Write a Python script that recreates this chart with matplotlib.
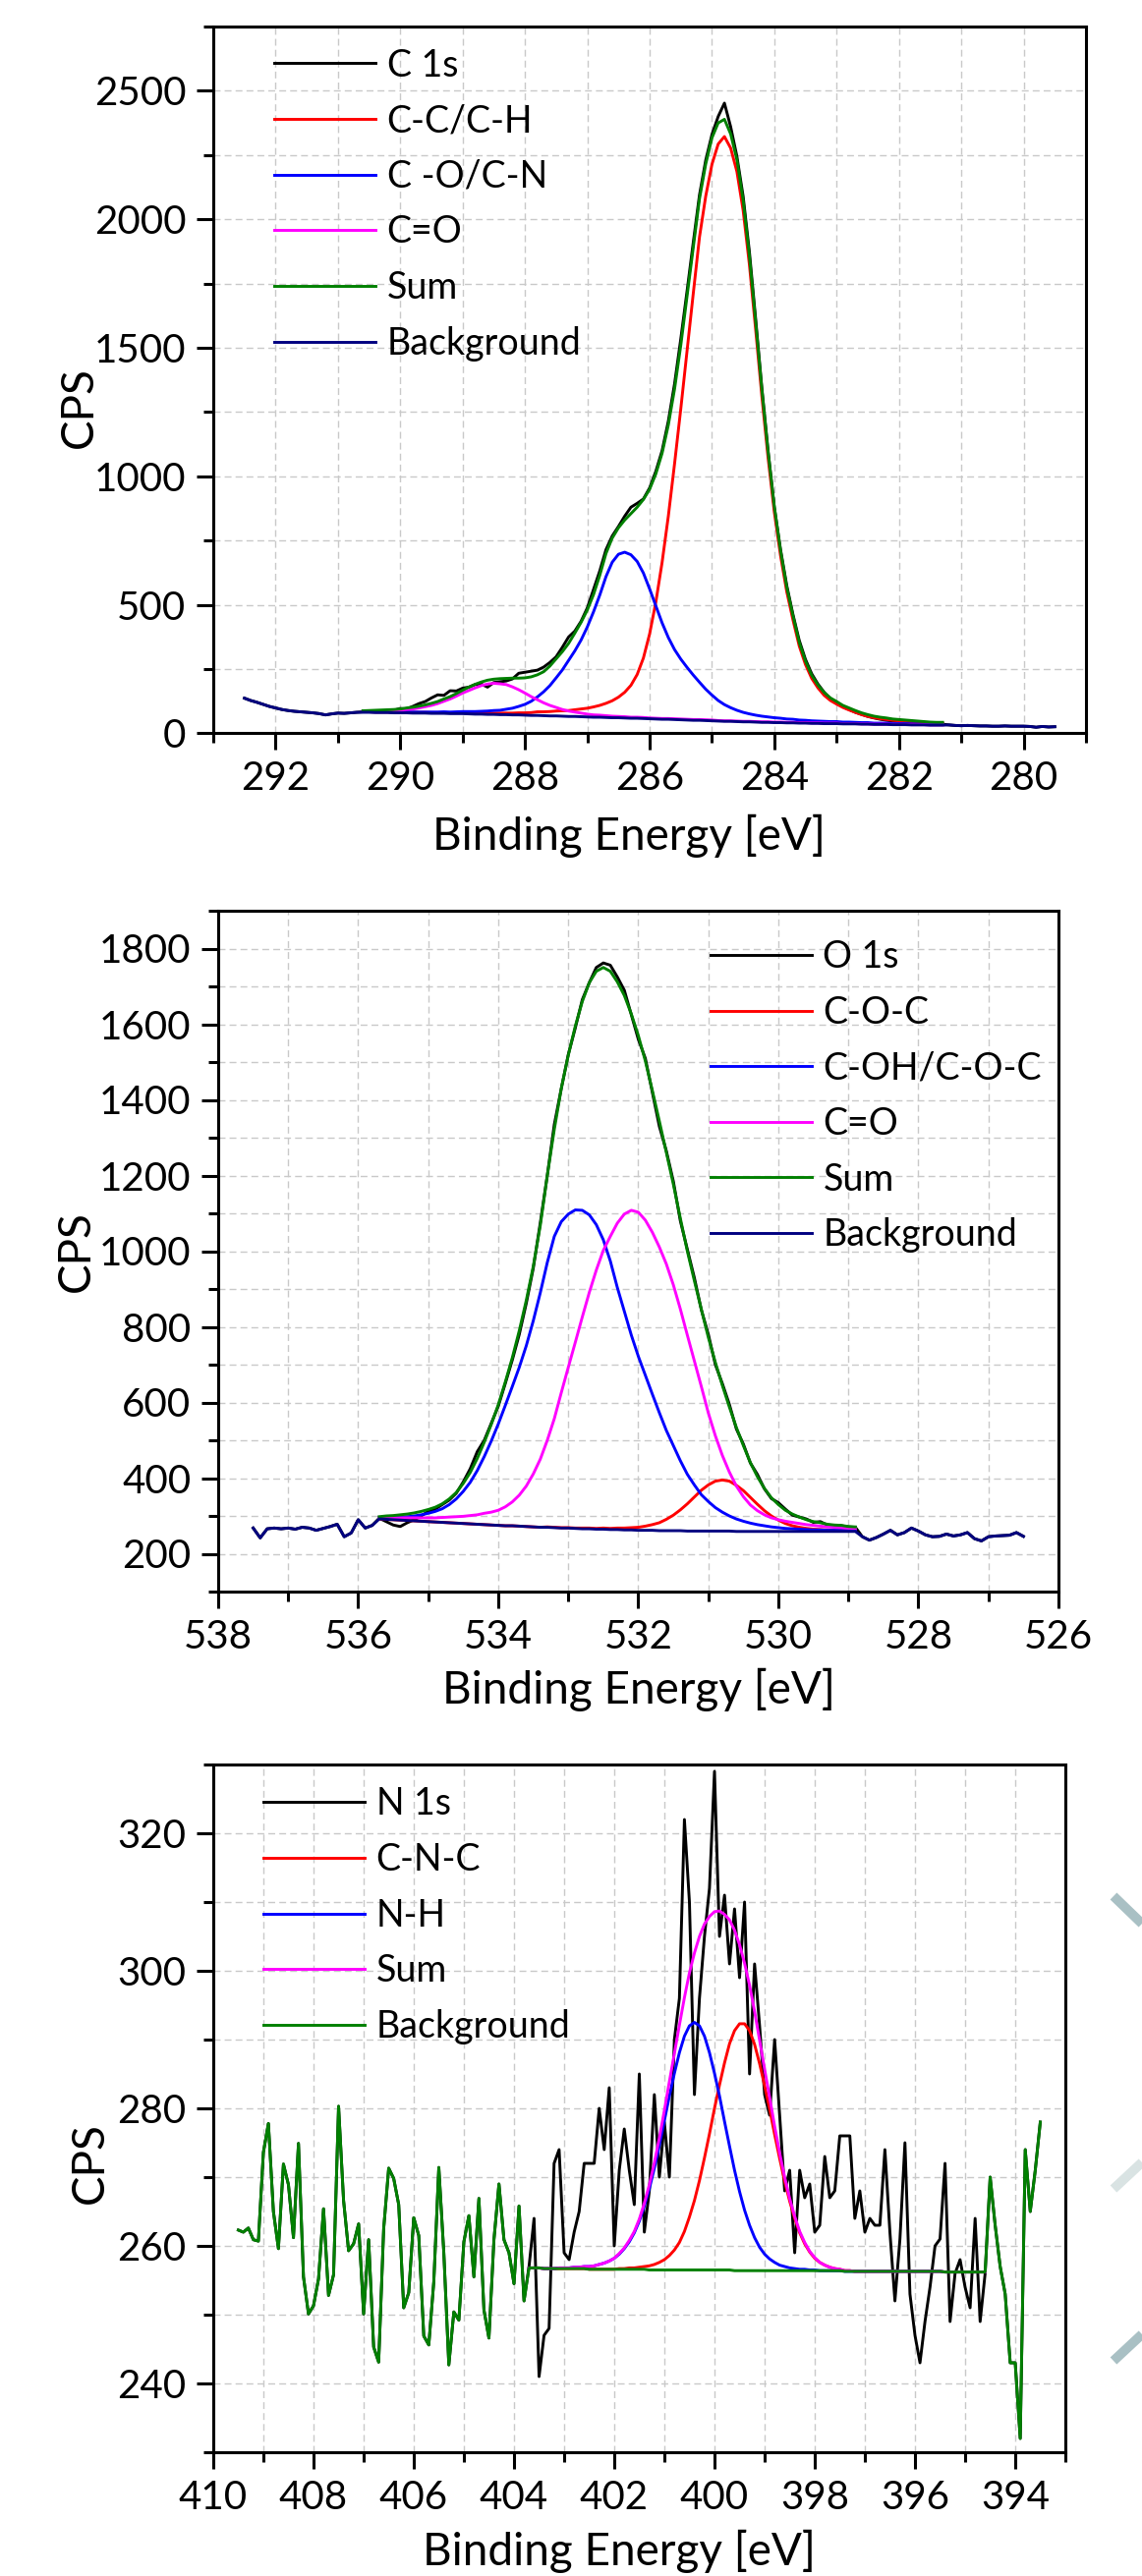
import numpy as np
import matplotlib
matplotlib.use("Agg")
import matplotlib.pyplot as plt
from matplotlib.ticker import MultipleLocator
from matplotlib.lines import Line2D

plt.rcParams['font.family'] = ['Lato', 'DejaVu Sans']

#-------------------------------
# C 1s  (292.5 -> 279.5 eV, 0.1 eV steps, fit region 290.6 -> 281.3)
#-------------------------------
c_energy = np.round(np.arange(292.5, 279.45, -0.1), 1)
c_fit = (19, 113)
c_counts = [
    137, 128, 121, 113, 105, 99, 93, 89, 86, 84,
    82, 80, 77, 72, 76, 79, 78, 80, 82,
    84, 85, 86, 85, 88, 90, 97, 95, 105, 116,
    124, 138, 150, 148, 166, 165, 176, 180, 190, 192,
    180, 198, 201, 204, 212, 234, 238, 242, 246, 258,
    276, 298, 335, 375, 398, 436, 488, 560, 632, 715,
    768, 805, 845, 880, 895, 912, 955, 1020, 1100, 1215,
    1360, 1535, 1720, 1910, 2095, 2230, 2330, 2400, 2452, 2360,
    2245, 2090, 1875, 1615, 1345, 1100, 880, 715, 575, 462,
    362, 288, 232, 192, 160, 134, 119, 104, 93, 82,
    74, 66, 60, 55, 51, 48, 46, 44, 42, 41,
    40, 38, 37, 36,
    33, 31, 30, 31, 30, 29, 29, 28, 28, 29,
    28, 28, 28, 27, 24, 27, 25, 26,
]
c_shirley = [
    82, 82, 81, 81, 81, 80, 80, 80, 79, 79,
    79, 78, 78, 78, 77, 77, 77, 76, 75, 75,
    74, 74, 73, 73, 72, 72, 71, 70, 70, 69,
    68, 68, 67, 66, 66, 65, 64, 63, 63, 62,
    61, 61, 60, 59, 59, 58, 57, 56, 55, 55,
    54, 53, 52, 51, 51, 50, 49, 48, 47, 47,
    46, 45, 45, 44, 43, 43, 42, 42, 41, 41,
    40, 40, 39, 39, 38, 38, 38, 37, 37, 37,
    36, 36, 35, 35, 35, 34, 34, 34, 33, 33,
    33, 32, 32, 32,
]
c_cc = [
    2, 2, 2, 2, 2, 2, 2, 3, 3, 3,
    3, 3, 3, 3, 3, 3, 3, 4, 4, 5,
    5, 5, 6, 6, 7, 8, 9, 11, 14, 15,
    17, 19, 21, 23, 26, 30, 34, 40, 46, 55,
    66, 80, 100, 128, 170, 235, 330, 455, 610, 790,
    995, 1210, 1435, 1660, 1880, 2040, 2165, 2245, 2275, 2230,
    2140, 1990, 1780, 1530, 1270, 1030, 820, 650, 510, 400,
    300, 228, 175, 138, 110, 90, 76, 64, 54, 45,
    37, 30, 26, 22, 19, 17, 15, 13, 12, 10,
    9, 8, 7, 7,
]
c_co = [
    3, 3, 3, 3, 3, 3, 3, 4, 4, 4,
    4, 5, 5, 6, 6, 7, 8, 9, 10, 11,
    13, 15, 17, 21, 26, 33, 42, 55, 72, 93,
    118, 148, 180, 218, 255, 298, 350, 410, 475, 548,
    605, 636, 645, 636, 610, 566, 505, 440, 375, 318,
    272, 236, 205, 176, 148, 122, 100, 80, 65, 53,
    44, 37, 31, 27, 24, 21, 19, 17, 15, 14,
    12, 11, 10, 9, 9, 8, 8, 7, 7, 6,
    6, 6, 5, 5, 5, 4, 4, 4, 4, 4,
    3, 3, 3, 3,
]
c_c_o = [
    4, 4, 5, 6, 7, 8, 10, 13, 16, 20,
    25, 31, 38, 47, 57, 68, 80, 91, 102, 111,
    118, 121, 120, 117, 109, 98, 86, 73, 61, 50,
    41, 33, 26, 21, 17, 14, 11, 9, 8, 7,
    6, 5, 5, 4, 4, 4, 3, 3, 3, 3,
    3, 3, 3, 3, 3, 3, 3, 2, 2, 2,
    2, 2, 2, 2, 2, 2, 2, 2, 2, 2,
    2, 2, 2, 2, 2, 2, 2, 1, 1, 1,
    1, 1, 1, 1, 1, 1, 1, 1, 1, 1,
    1, 1, 1, 1,
]
c_sum = [
    88, 89, 90, 91, 92, 93, 95, 99, 102, 106,
    111, 117, 124, 134, 143, 155, 168, 180, 191, 200,
    207, 211, 213, 214, 215, 215, 216, 220, 228, 240,
    262, 290, 318, 350, 390, 432, 480, 540, 615, 700,
    760, 800, 830, 855, 880, 910, 950, 1010, 1090, 1200,
    1340, 1510, 1700, 1890, 2080, 2215, 2317, 2375, 2389, 2332,
    2232, 2074, 1858, 1603, 1339, 1096, 883, 711, 568, 457,
    354, 281, 226, 188, 159, 138, 124, 109, 99, 89,
    80, 73, 67, 63, 60, 56, 54, 52, 50, 48,
    46, 44, 43, 43,
]

#-------------------------------
# O 1s  (537.5 -> 526.5 eV, fit region 535.7 -> 528.9)
#-------------------------------
o_energy = np.round(np.arange(537.5, 526.45, -0.1), 1)
o_fit = (18, 87)
o_counts = [
    268, 242, 266, 268, 266, 268, 265, 270, 268, 262,
    267, 272, 278, 245, 255, 290, 268, 275,
    294, 285, 276, 272, 282, 290, 300, 312, 318, 330,
    342, 360, 390, 425, 470, 500, 545, 590, 650, 712,
    780, 862, 955, 1075, 1200, 1335, 1430, 1520, 1590, 1665,
    1710, 1750, 1762, 1756, 1725, 1690, 1625, 1560, 1510, 1420,
    1330, 1265, 1185, 1080, 1005, 930, 845, 780, 700, 650,
    595, 530, 490, 440, 410, 372, 346, 335, 318, 302,
    297, 292, 283, 285, 276, 275, 274, 271, 270,
    245, 236, 243, 252, 262, 250, 256, 268, 260, 250,
    245, 246, 252, 247, 250, 256, 240, 234, 245, 247,
    248, 249, 256, 246,
]
o_shirley = [
    292, 291, 290, 289, 288, 287, 286, 285, 284, 283,
    282, 281, 280, 279, 278, 277, 276, 275, 274, 274,
    273, 272, 271, 270, 270, 269, 268, 268, 267, 266,
    266, 265, 265, 264, 264, 263, 263, 262, 262, 262,
    261, 261, 261, 261, 260, 260, 260, 260, 260, 260,
    260, 259, 259, 259, 259, 259, 259, 259, 259, 259,
    259, 259, 259, 259, 259, 259, 259, 259, 259,
]
o_coc = [
    0, 0, 0, 0, 0, 0, 0, 0, 0, 0,
    0, 0, 0, 0, 0, 0, 0, 0, 0, 0,
    0, 0, 0, 0, 1, 1, 1, 1, 1, 2,
    2, 2, 3, 3, 4, 5, 6, 8, 11, 15,
    21, 30, 41, 55, 72, 90, 108, 122, 132, 135,
    132, 122, 108, 90, 72, 55, 41, 30, 21, 15,
    11, 8, 6, 5, 4, 3, 3, 2, 2,
]
o_coh = [
    4, 5, 6, 8, 10, 13, 17, 22, 28, 36,
    48, 64, 85, 110, 142, 180, 222, 268, 318, 368,
    420, 478, 545, 620, 700, 770, 810, 830, 842, 842,
    830, 805, 765, 710, 640, 578, 515, 460, 410, 360,
    312, 265, 225, 185, 150, 122, 96, 78, 62, 50,
    40, 33, 27, 22, 18, 15, 12, 10, 8, 7,
    6, 5, 4, 4, 3, 3, 3, 2, 2,
]
o_c_o = [
    4, 5, 5, 6, 7, 8, 9, 10, 11, 13,
    15, 17, 19, 22, 25, 30, 34, 40, 50, 63,
    82, 107, 140, 180, 230, 288, 358, 425, 492, 560,
    625, 685, 737, 775, 810, 835, 845, 841, 820, 788,
    750, 705, 650, 586, 518, 450, 382, 312, 252, 200,
    156, 120, 92, 70, 55, 44, 36, 31, 27, 24,
    21, 18, 16, 14, 12, 11, 10, 9, 8,
]
o_sum = [
    298, 300, 301, 303, 305, 308, 312, 317, 323, 332,
    345, 362, 386, 415, 452, 495, 542, 594, 654, 718,
    790, 870, 960, 1068, 1200, 1322, 1430, 1518, 1595, 1660,
    1710, 1740, 1750, 1740, 1712, 1676, 1627, 1570, 1503, 1425,
    1344, 1261, 1177, 1087, 1000, 922, 846, 772, 706, 645,
    588, 534, 486, 441, 404, 373, 348, 330, 315, 305,
    297, 290, 285, 282, 278, 276, 275, 272, 271,
]

#-------------------------------
# N 1s  (409.5 -> 393.5 eV, fit region 403.7 -> 394.6)
#-------------------------------
n_energy = np.round(np.arange(409.5, 393.45, -0.1), 1)
n_fit = (58, 150)
n_counts = [
    262.3, 262.0, 262.6, 260.9, 260.7, 273.6, 277.8, 265.0, 259.6, 271.9,
    268.9, 261.2, 274.9, 255.5, 250.1, 251.3, 255.2, 265.4, 252.8, 255.8,
    280.3, 266.6, 259.3, 260.3, 263.2, 250.1, 260.9, 245.3, 243.1, 262.5,
    271.3, 269.8, 266.0, 251.0, 253.2, 264.1, 261.5, 246.9, 245.6, 254.8,
    271.4, 259.0, 242.7, 250.4, 249.2, 260.6, 264.4, 255.5, 266.9, 250.7,
    246.6, 260.9, 269.0, 260.9, 259.0, 254.5, 265.8, 252.0,
    257, 264, 241, 247, 248, 272, 274, 259, 258, 262,
    265, 272, 272, 272, 280, 274, 283, 260, 271, 277,
    271, 266, 285, 262, 268, 282, 270, 278, 270, 290,
    296, 322, 310, 282, 296, 305, 312, 329, 305, 311,
    301, 309, 299, 310, 285, 301, 292, 282, 279, 290,
    279, 268, 271, 259, 271, 267, 269, 262, 263, 273,
    267, 268, 276, 276, 276, 264, 268, 262, 264, 263,
    263, 274, 262, 252, 261, 275, 253, 247, 243, 249,
    254, 260, 261, 272, 249, 256, 258, 254, 251, 264,
    249, 256,
    270, 263, 257, 253, 243, 243, 232, 274, 265, 271, 278,
]
n_shirley = [
    256.8, 256.8, 256.8, 256.7, 256.7, 256.7, 256.7, 256.7, 256.7, 256.7,
    256.7, 256.7, 256.6, 256.6, 256.6, 256.6, 256.6, 256.6, 256.6, 256.6,
    256.6, 256.6, 256.6, 256.6, 256.5, 256.5, 256.5, 256.5, 256.5, 256.5,
    256.5, 256.5, 256.5, 256.5, 256.5, 256.5, 256.5, 256.5, 256.5, 256.5,
    256.5, 256.4, 256.4, 256.4, 256.4, 256.4, 256.4, 256.4, 256.4, 256.4,
    256.4, 256.4, 256.4, 256.4, 256.4, 256.4, 256.4, 256.4, 256.4, 256.4,
    256.4, 256.4, 256.4, 256.3, 256.3, 256.3, 256.3, 256.3, 256.3, 256.3,
    256.3, 256.3, 256.3, 256.3, 256.3, 256.3, 256.3, 256.3, 256.3, 256.3,
    256.3, 256.3, 256.3, 256.2, 256.2, 256.2, 256.2, 256.2, 256.2, 256.2,
    256.2, 256.2,
]
n_cnc = [
    0, 0, 0, 0, 0, 0, 0, 0, 0, 0,
    0, 0, 0, 0, 0, 0, 0, 0,
    0.1, 0.1, 0.2, 0.2, 0.3, 0.4, 0.6, 0.8, 1.1, 1.5,
    2.1, 2.9, 4.0, 5.6, 7.7, 10.1, 13.0, 16.3, 19.8, 23.5,
    26.9, 30.1, 32.9, 34.9, 35.9, 35.9, 34.9, 32.9, 30.1, 26.9,
    23.5, 19.8, 16.3, 13.0, 10.1, 7.6, 5.5, 3.9, 2.7, 1.8,
    1.2, 0.8, 0.5, 0.3, 0.2, 0.1, 0.1,
    0, 0, 0, 0, 0, 0, 0, 0, 0, 0,
    0, 0, 0, 0, 0, 0, 0, 0, 0, 0,
    0, 0, 0, 0, 0, 0, 0,
]
n_nh = [
    0, 0, 0, 0, 0, 0, 0.1, 0.1, 0.1,
    0.2, 0.2, 0.3, 0.4, 0.5, 0.7, 0.9, 1.2, 1.6, 2.2,
    3.0, 4.0, 5.3, 7.0, 9.2, 11.8, 14.8, 18.1, 21.7, 25.3,
    28.6, 31.6, 34.0, 35.5, 36.0, 35.5, 34.0, 31.6, 28.6, 25.3,
    21.6, 18.0, 14.6, 11.5, 8.8, 6.6, 4.8, 3.4, 2.4, 1.7,
    1.2, 0.8, 0.6, 0.4, 0.3, 0.2, 0.2, 0.1, 0.1,
    0, 0, 0, 0, 0, 0, 0, 0, 0, 0,
    0, 0, 0, 0, 0, 0, 0, 0, 0, 0,
    0, 0, 0, 0, 0, 0, 0, 0, 0, 0,
    0, 0, 0, 0,
]

# faint watermark strokes at the right margin (figure pixels)
mark_strokes = [((1133, 1930), (1162, 1958), '#a9c0c4'),
                ((1133, 2228), (1162, 2201), '#d9e3e3'),
                ((1133, 2403), (1162, 2376), '#a9c0c4')]

LW = 2.1
FIG_W, FIG_H = 1162, 2622


def check(name, values, n):
    if len(values) != n:
        raise ValueError("%s has %d values, expected %d" % (name, len(values), n))


def draw_panel(ax, energy, counts, fit, shirley, parts, total, data_name,
               names, colors, sum_color, bg_color):
    i0, i1 = fit
    counts = np.asarray(counts, float)
    bg = np.asarray(shirley, float)
    e_fit = energy[i0:i1]
    check(data_name + " counts", counts, len(energy))
    check(data_name + " background", bg, i1 - i0)
    check(data_name + " sum", total, i1 - i0)

    ax.plot(energy, counts, color='black', lw=LW, label=data_name,
            solid_joinstyle='round')
    for h, name, col in zip(parts, names, colors):
        check(name, h, i1 - i0)
        ax.plot(e_fit, bg + np.asarray(h, float), color=col, lw=LW, label=name)
    ax.plot(e_fit, total, color=sum_color, lw=LW, label='Sum')
    full_bg = np.concatenate([counts[:i0], bg, counts[i1:]])
    ax.plot(energy, full_bg, color=bg_color, lw=LW, label='Background',
            solid_joinstyle='round')


def style_axes(ax, xlim, ylim, ymajor, yminor, xlab_pos, ylab_pos, leg_pos):
    ax.set_xlim(*xlim)
    ax.set_ylim(*ylim)
    ax.xaxis.set_major_locator(MultipleLocator(2))
    ax.xaxis.set_minor_locator(MultipleLocator(1))
    ax.yaxis.set_major_locator(MultipleLocator(ymajor))
    ax.yaxis.set_minor_locator(MultipleLocator(yminor))
    ax.grid(True, which='both', color='#c9c9c9', linestyle=(0, (5, 3)), linewidth=1.0)
    ax.set_axisbelow(True)
    for s in ax.spines.values():
        s.set_linewidth(2.2)
    ax.tick_params(which='major', direction='out', length=12, width=2.2,
                   labelsize=29, pad=8)
    ax.tick_params(which='minor', direction='out', length=7, width=2.2)
    ax.set_xlabel("Binding Energy [eV]", fontsize=33)
    ax.set_ylabel("CPS", fontsize=33)
    ax.xaxis.set_label_coords(*xlab_pos)
    ax.yaxis.set_label_coords(*ylab_pos)
    ax.legend(loc='upper left', bbox_to_anchor=leg_pos, frameon=False,
              fontsize=27, handlelength=2.75, handletextpad=0.3,
              labelspacing=0.55, borderpad=0, borderaxespad=0)


fig = plt.figure(figsize=(FIG_W / 100, FIG_H / 100), dpi=100)

# --- C 1s
ax1 = fig.add_axes([217 / FIG_W, 1 - 746.5 / FIG_H, 888 / FIG_W, 719.5 / FIG_H])
draw_panel(ax1, c_energy, c_counts, c_fit, c_shirley, [c_cc, c_co, c_c_o], c_sum,
           'C 1s', ['C-C/C-H', 'C -O/C-N', 'C=O'], ['#ff0000', '#0000ff', '#ff00ff'],
           '#008000', '#000080')
style_axes(ax1, (293, 279), (0, 2750), 500, 250,
           (0.476, -0.114), (-0.13, 0.461), (0.070, 0.970))

# --- O 1s
ax2 = fig.add_axes([222 / FIG_W, 1 - 1620 / FIG_H, 855 / FIG_W, 693 / FIG_H])
draw_panel(ax2, o_energy, o_counts, o_fit, o_shirley, [o_coc, o_coh, o_c_o], o_sum,
           'O 1s', ['C-O-C', 'C-OH/C-O-C', 'C=O'], ['#ff0000', '#0000ff', '#ff00ff'],
           '#008000', '#000080')
style_axes(ax2, (538, 526), (100, 1900), 200, 100,
           (0.5, -0.112), (-0.144, 0.5), (0.586, 0.958))

# --- N 1s
n_total = (np.asarray(n_shirley) + np.asarray(n_cnc) + np.asarray(n_nh))
ax3 = fig.add_axes([217 / FIG_W, 1 - 2496 / FIG_H, 867 / FIG_W, 700 / FIG_H])
draw_panel(ax3, n_energy, n_counts, n_fit, n_shirley, [n_cnc, n_nh], n_total,
           'N 1s', ['C-N-C', 'N-H'], ['#ff0000', '#0000ff'],
           '#ff00ff', '#008000')
style_axes(ax3, (410, 393), (230, 330), 20, 10,
           (0.476, -0.112), (-0.12, 0.42), (0.059, 0.968))

for (x0, y0), (x1, y1), col in mark_strokes:
    fig.add_artist(Line2D([x0 / FIG_W, x1 / FIG_W], [1 - y0 / FIG_H, 1 - y1 / FIG_H],
                          transform=fig.transFigure, color=col, lw=7,
                          solid_capstyle='butt'))

fig.savefig("out.png", dpi=100)
